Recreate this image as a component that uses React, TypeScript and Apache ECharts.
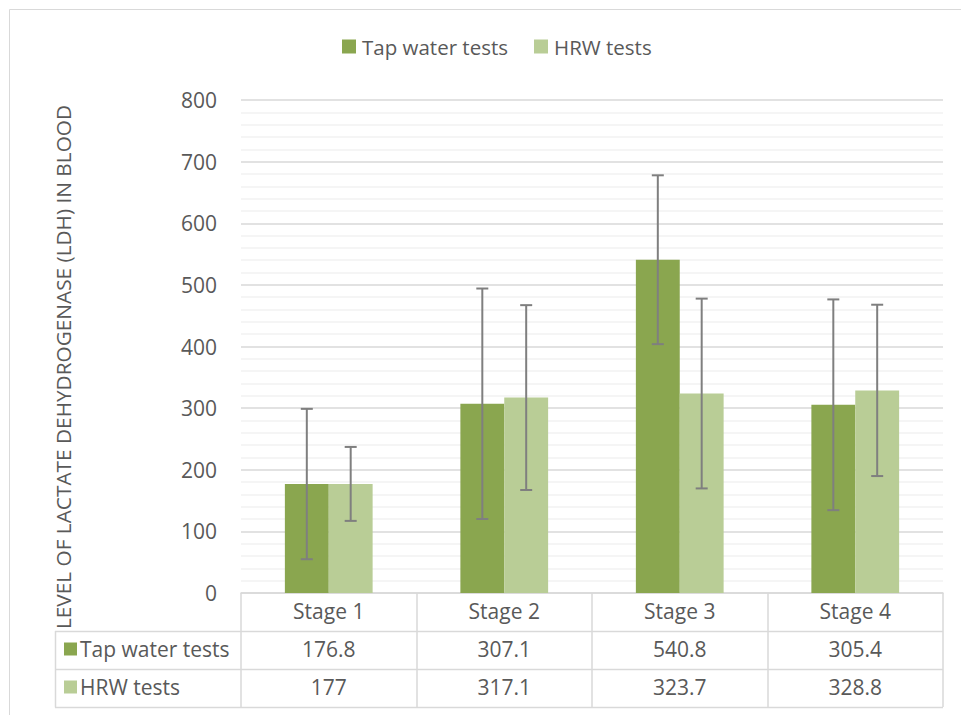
import React, { useEffect, useRef } from "react";
import * as echarts from "echarts";

const categories = ["Stage 1", "Stage 2", "Stage 3", "Stage 4"];
const seriesNames = ["Tap water tests", "HRW tests"];
const seriesColors = ["#8aa64f", "#b9cd96"];
const tapValues = [176.8, 307.1, 540.8, 305.4];
const hrwValues = [177, 317.1, 323.7, 328.8];
const tapErrors = [122, 187, 137, 171];
const hrwErrors = [60, 150, 154, 139];
const tableRows = [tapValues, hrwValues];
const yMin = 0;
const yMax = 800;
const yInterval = 100;
const yAxisTitle = "LEVEL OF LACTATE DEHYDROGENASE (LDH) IN BLOOD";

const FONT = "'Open Sans', 'Noto Sans', sans-serif";
const TEXT = "#595959";
const GRID = "#d9d9d9";

const GRID_LEFT = 241;
const GRID_RIGHT_X = 943;
const GRID_TOP = 100;
const AXIS_Y = 593;
const ROW_H = 38;

function errorSeries(values: number[], errors: number[], sign: number) {
  return {
    type: "custom",
    z: 10,
    silent: true,
    data: values.map((v, i) => [i, v - errors[i], v + errors[i]]),
    encode: { x: 0, y: [1, 2] },
    renderItem: (params: any, api: any) => {
      const idx = api.value(0);
      const lo = api.coord([idx, api.value(1)]);
      const hi = api.coord([idx, api.value(2)]);
      const catW = api.size([1, 0])[0];
      const x = lo[0] + sign * catW * 0.125;
      const cap = 6;
      const style = { stroke: "#7f7f7f", lineWidth: 2 };
      return {
        type: "group",
        children: [
          { type: "line", shape: { x1: x, y1: hi[1], x2: x, y2: lo[1] }, style },
          { type: "line", shape: { x1: x - cap, y1: hi[1], x2: x + cap, y2: hi[1] }, style },
          { type: "line", shape: { x1: x - cap, y1: lo[1], x2: x + cap, y2: lo[1] }, style },
        ],
      };
    },
  };
}

export default function App() {
  const ref = useRef<HTMLDivElement>(null);
  useEffect(() => {
    if (!ref.current) return;
    const chart = echarts.init(ref.current, undefined, { renderer: "svg" });

    const tableBottom = AXIS_Y + ROW_H * 3;
    const graphics: any[] = [
      {
        type: "rect",
        shape: { x: 9.5, y: 9.5, width: 980, height: 800 },
        style: { fill: "none", stroke: GRID, lineWidth: 1 },
        silent: true,
      },
    ];
    // table horizontal lines
    for (let r = 1; r <= 3; r++) {
      const y = AXIS_Y + ROW_H * r + 0.5;
      graphics.push({
        type: "line",
        shape: { x1: 55, y1: y, x2: GRID_RIGHT_X, y2: y },
        style: { stroke: GRID, lineWidth: 1.5 },
      });
    }
    graphics.push({
      type: "line",
      shape: { x1: 55.5, y1: AXIS_Y + ROW_H, x2: 55.5, y2: tableBottom + 0.5 },
      style: { stroke: GRID, lineWidth: 1.5 },
    });
    // row headers
    seriesNames.forEach((name, i) => {
      const cy = AXIS_Y + ROW_H * (i + 1) + ROW_H / 2 - 1;
      graphics.push({
        type: "rect",
        shape: { x: 64, y: cy - 6.5, width: 13, height: 13 },
        style: { fill: seriesColors[i] },
      });
      graphics.push({
        type: "text",
        x: 80,
        y: cy,
        style: {
          text: name,
          fill: TEXT,
          font: `21px ${FONT}`,
          textAlign: "left",
          verticalAlign: "middle",
          textVerticalAlign: "middle",
        },
      });
    });
    // y axis title
    graphics.push({
      type: "text",
      x: 63,
      y: 367,
      rotation: Math.PI / 2,
      style: {
        text: yAxisTitle,
        fill: TEXT,
        font: `20.8px ${FONT}`,
        textAlign: "center",
        verticalAlign: "middle",
        textVerticalAlign: "middle",
      },
    });

    chart.setOption({
      animation: false,
      backgroundColor: "#ffffff",
      textStyle: { fontFamily: FONT, color: TEXT },
      legend: {
        data: seriesNames,
        left: 337,
        top: 31,
        icon: "rect",
        itemWidth: 14,
        itemHeight: 14,
        itemGap: 26,
        textStyle: { color: TEXT, fontSize: 20.5, fontFamily: FONT, padding: [0, 0, 0, 1] },
      },
      grid: {
        left: GRID_LEFT,
        right: 961 - GRID_RIGHT_X,
        top: GRID_TOP,
        bottom: 715 - AXIS_Y,
        containLabel: false,
      },
      xAxis: {
        type: "category",
        data: categories,
        axisLine: { show: true, lineStyle: { color: GRID, width: 1.5 } },
        axisTick: { show: true, length: ROW_H * 3, lineStyle: { color: GRID, width: 1.5 } },
        axisLabel: {
          margin: -1,
          interval: 0,
          color: TEXT,
          fontSize: 21,
          fontFamily: FONT,
          lineHeight: ROW_H,
          formatter: (v: string, i: number) =>
            [v, ...tableRows.map((row) => String(row[i]))].join("\n"),
        },
      },
      yAxis: {
        type: "value",
        min: yMin,
        max: yMax,
        interval: yInterval,
        axisLine: { show: false },
        axisTick: { show: false },
        axisLabel: { color: TEXT, fontSize: 21, fontFamily: FONT, margin: 24 },
        splitLine: { show: true, lineStyle: { color: GRID, width: 1.5 } },
        minorTick: { show: false, splitNumber: 5 },
        minorSplitLine: { show: true, lineStyle: { color: "#f2f2f2", width: 1.5 } },
      },
      series: [
        {
          name: seriesNames[0],
          type: "bar",
          data: tapValues,
          barGap: "0%",
          barCategoryGap: "50%",
          itemStyle: { color: seriesColors[0] },
        },
        {
          name: seriesNames[1],
          type: "bar",
          data: hrwValues,
          barGap: "0%",
          barCategoryGap: "50%",
          itemStyle: { color: seriesColors[1] },
        },
        errorSeries(tapValues, tapErrors, -1),
        errorSeries(hrwValues, hrwErrors, 1),
      ],
      graphic: graphics,
    });
    return () => chart.dispose();
  }, []);
  return (
    <div
      ref={ref}
      style={{ position: "absolute", left: 0, top: 0, width: 961, height: 715 }}
    />
  );
}
